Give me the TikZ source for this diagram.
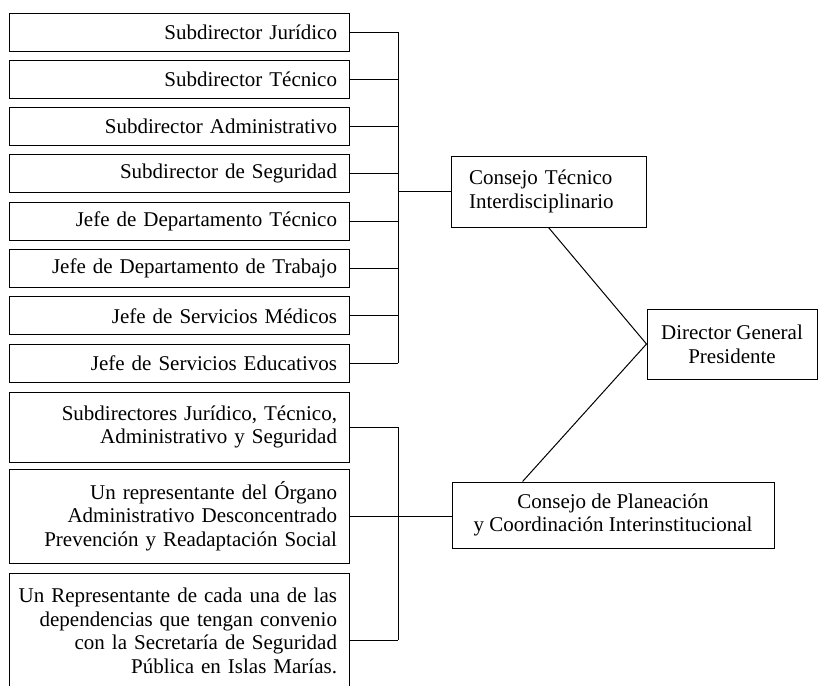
\documentclass[tikz,border=0pt]{standalone}
\usepackage{fontspec}
\setmainfont{Liberation Serif}
\usetikzlibrary{calc}
\begin{document}
\begin{tikzpicture}[x=0.5pt, y=-0.5pt, line width=0.5pt,
  every node/.style={font=\fontsize{10.5}{11.85}\selectfont},
  cargo/.style={shape=rectangle, draw=black, align=right, text width=158pt, inner xsep=6pt, inner ysep=0pt, minimum height=19pt},
  consejo/.style={shape=rectangle, draw=black, inner sep=0pt}]
\clip (0,0) rectangle (818,685);
\node[cargo] (sj) at (179,32) {Subdirector Jurídico};
\node[cargo] (st) at (179,79.3) {Subdirector Técnico};
\node[cargo] (sa) at (179,126.6) {Subdirector Administrativo};
\node[cargo] (ss) at (179,173.9) {Subdirector de Seguridad};
\node[cargo] (jt) at (179,221.2) {Jefe de Departamento Técnico};
\node[cargo] (jw) at (179,268.5) {Jefe de Departamento de Trabajo};
\node[cargo] (jm) at (179,315.8) {Jefe de Servicios Médicos};
\node[cargo] (je) at (179,363.1) {Jefe de Servicios Educativos};
\node[cargo, minimum height=35pt] (sd) at (179,427) {Subdirectores Jurídico, Técnico,\\Administrativo y Seguridad};
\node[cargo, minimum height=47pt] (ro) at (179,516) {Un representante del Órgano\\Administrativo Desconcentrado\\Prevención y Readaptación Social};
\node[cargo, minimum height=58pt] (ur) at (179,631) {\makebox[0pt][r]{Un Representante de cada una de las}\\dependencias que tengan convenio\\con la Secretaría de Seguridad\\Pública en Islas Marías.};
\node[consejo, align=left, text width=79.5pt, inner xsep=9pt, minimum height=35.5pt] (ct) at (548.5,191.5) {Consejo Técnico\\Interdisciplinario};
\node[consejo, align=center, minimum width=85pt, minimum height=35pt] (dg) at (732,344) {Director General\\Presidente};
\node[consejo, align=center, minimum width=161pt, minimum height=33pt] (cp) at (613,515) {Consejo de Planeación\\y Coordinación Interinstitucional};
\coordinate (bus) at (398,0);
% consejo tecnico
\draw[-] (sj.east) -- (sj.east -| bus);
\draw[-] (st.east) -- (st.east -| bus);
\draw[-] (sa.east) -- (sa.east -| bus);
\draw[-] (ss.east) -- (ss.east -| bus);
\draw[-] (jt.east) -- (jt.east -| bus);
\draw[-] (jw.east) -- (jw.east -| bus);
\draw[-] (jm.east) -- (jm.east -| bus);
\draw[-] (je.east) -- (je.east -| bus);
\draw[-] (sj.east -| bus) -- (je.east -| bus);
\draw[-] (bus |- ct.west) -- (ct.west);
% consejo de planeacion
\draw[-] (sd.east) -- (sd.east -| bus);
\draw[-] (ro.east) -- (ro.east -| cp.west);
\draw[-] ([yshift=-4.5pt]ur.east) -- ([yshift=-4.5pt]ur.east -| bus);
\draw[-] (sd.east -| bus) -- ([yshift=-4.5pt]ur.east -| bus);
% director
\draw[-] (ct.south) -- (dg.west);
\draw[-] ($(cp.north west)!0.22!(cp.north east)$) -- (dg.west);
\end{tikzpicture}
\end{document}
